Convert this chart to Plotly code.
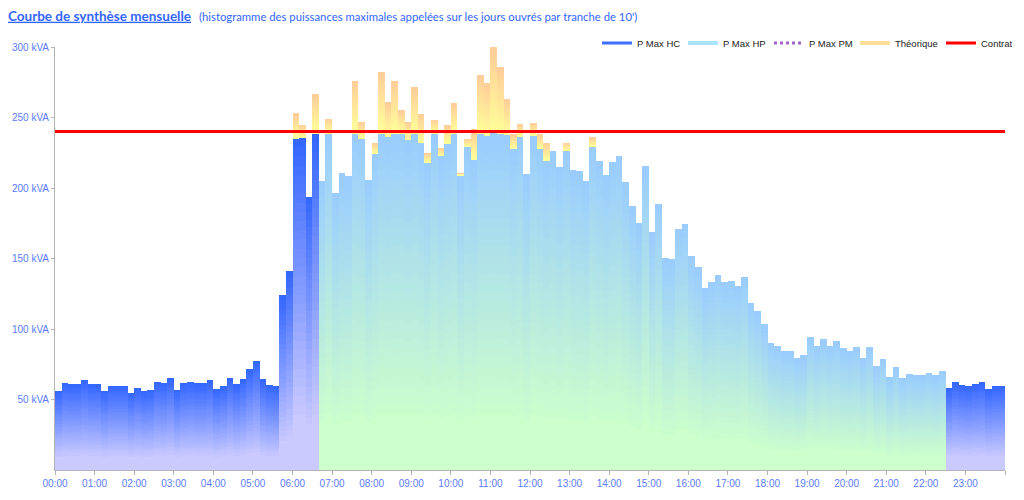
import plotly.graph_objects as go

# ---------------- data ----------------
N_SLOTS = 144                      # 10-minute slots over 24 h
SLOTS_PER_HOUR = 6
HOUR_LABELS = [f"{h:02d}:00" for h in range(24)]

# P Max (kVA) per 10' slot, heures creuses 00:00 -> 06:30
P_MAX_HC_NIGHT = [56.0, 61.4, 60.7, 60.7, 63.6, 60.7, 60.7, 56.0, 59.5, 59.5,
                  59.5, 54.8, 58.3, 56.0, 56.7, 62.4, 61.4, 65.2, 56.7, 61.4,
                  62.4, 61.4, 61.4, 63.6, 57.4, 59.5, 65.2, 60.7, 64.3, 71.4,
                  77.5, 64.3, 60.5, 59.5, 123.8, 141.0, 235.0, 235.5, 193.7, 239.0]
# heures pleines 06:40 -> 22:20
P_MAX_HP = [204.8, 239.0, 196.8, 210.5, 208.4, 239.0, 235.0, 205.5, 224.4, 239.0,
            236.2, 239.0, 239.0, 234.3, 239.0, 232.0, 218.1, 239.0, 222.8, 231.5,
            239.0, 209.1, 229.1, 220.4, 239.0, 237.4, 239.0, 238.6, 238.0, 228.0,
            236.2, 209.8, 236.9, 228.0, 219.7, 226.3, 215.0, 226.3, 213.1, 212.4,
            204.8, 229.6, 218.8, 209.1, 218.1, 222.5, 204.1, 187.1, 175.3, 215.7,
            168.9, 189.0, 150.7, 149.8, 170.8, 174.3, 151.7, 143.9, 128.8, 133.2,
            138.0, 133.4, 134.2, 130.6, 137.0, 118.1, 112.5, 103.2, 90.2, 87.9,
            84.6, 84.6, 79.6, 81.3, 94.0, 88.1, 92.6, 88.1, 91.2, 86.2,
            84.6, 86.9, 79.6, 86.9, 73.7, 78.7, 65.9, 72.8, 65.2, 68.0,
            67.1, 67.1, 69.0, 67.1, 69.9]
# heures creuses 22:30 -> 23:50
P_MAX_HC_EVENING = [58.3, 62.1, 60.5, 59.5, 61.2, 62.1, 57.6, 59.5, 59.5]

# Puissance théorique (kVA) on the slots where it exceeds the measured P Max
THEORIQUE_SLOTS = [36, 37, 39, 41, 45, 46, 48, 49, 50, 51, 52, 53, 54, 55, 56, 57,
                   58, 59, 60, 61, 62, 63, 64, 65, 66, 67, 68, 69, 70, 72, 73, 74,
                   77, 81]
THEORIQUE_VALUES = [253.0, 245.0, 266.5, 249.0, 276.0, 247.0, 232.0, 282.5, 261.0,
                    276.0, 255.0, 247.0, 271.5, 252.5, 225.0, 248.5, 228.5, 245.0,
                    260.0, 210.5, 235.0, 242.0, 280.0, 274.5, 300.0, 285.5, 263.0,
                    238.0, 245.5, 246.0, 238.0, 232.0, 232.0, 236.0]

CONTRAT_KVA = 240
Y_TICKS = [50, 100, 150, 200, 250, 300]

# ---------------- styles ----------------
HC_TOP, HC_BOTTOM = (51, 102, 255), (202, 202, 255)
HP_TOP, HP_BOTTOM = (153, 204, 255), (204, 255, 204)
TH_TOP, TH_BOTTOM = (255, 204, 153), (255, 255, 153)
AXIS_TEXT = "#5b7bff"
N_SLICES = 36


def grad(bottom, top, f, start=0.15):
    t = min(max((f - start) / (1 - start), 0.0), 1.0)
    c = [round(b + (a - b) * t) for a, b in zip(top, bottom)]
    return f"rgb({c[0]},{c[1]},{c[2]})"


p_max = P_MAX_HC_NIGHT + P_MAX_HP + P_MAX_HC_EVENING
hp_start = len(P_MAX_HC_NIGHT)
hp_end = hp_start + len(P_MAX_HP)
is_hp = [hp_start <= i < hp_end for i in range(len(p_max))]
x_centers = [i + 0.5 for i in range(len(p_max))]

theo_extra = [0.0] * len(p_max)
for s, v in zip(THEORIQUE_SLOTS, THEORIQUE_VALUES):
    theo_extra[s] = max(v - p_max[s], 0.0)

fig = go.Figure()

# P Max bars: vertical gradient per bar, drawn as overlaid shrinking bars
for k in range(N_SLICES):
    frac = (N_SLICES - k) / N_SLICES
    fmid = (N_SLICES - k - 0.5) / N_SLICES
    colors = [grad(HP_BOTTOM, HP_TOP, fmid) if hp else grad(HC_BOTTOM, HC_TOP, fmid)
              for hp in is_hp]
    fig.add_trace(go.Bar(
        x=x_centers, y=[v * frac for v in p_max],
        marker=dict(color=colors, line=dict(width=0)),
        showlegend=False, hoverinfo="skip", width=1,
    ))

# Théorique on top of P Max
for k in range(N_SLICES):
    frac = (N_SLICES - k) / N_SLICES
    fmid = (N_SLICES - k - 0.5) / N_SLICES
    fig.add_trace(go.Bar(
        x=x_centers, y=[v * frac for v in theo_extra], base=p_max,
        marker=dict(color=grad(TH_BOTTOM, TH_TOP, fmid, start=0.0), line=dict(width=0)),
        showlegend=False, hoverinfo="skip", width=1,
    ))

# legend entries
for name, color, dash, w in [("P Max HC", "#3f6fff", "solid", 3),
                             ("P Max HP", "#a8e4ff", "solid", 4),
                             ("P Max PM", "#a066cc", "dot", 3),
                             ("Théorique", "#ffdf99", "solid", 4)]:
    fig.add_trace(go.Scatter(x=[None], y=[None], mode="lines", name=name,
                             line=dict(color=color, width=w, dash=dash)))

fig.add_trace(go.Scatter(
    x=[0, len(p_max)], y=[CONTRAT_KVA, CONTRAT_KVA], mode="lines", name="Contrat",
    line=dict(color="#ff0000", width=3), hoverinfo="skip",
))

fig.update_layout(
    width=1024, height=500, autosize=False,
    margin=dict(l=55, r=19, t=47, b=30, autoexpand=False),
    paper_bgcolor="white", plot_bgcolor="white",
    barmode="overlay", bargap=0,
    title=dict(
        text="<b>Courbe de synthèse mensuelle</b>",
        x=8 / 1024, xanchor="left", xref="container",
        y=1 - 16 / 500, yanchor="middle", yref="container",
        font=dict(family="Comic Sans MS, Lato, sans-serif", size=13.5,
                  color="#3366ff", lineposition="under"),
    ),
    legend=dict(
        orientation="h", xref="container", yref="container",
        x=597 / 1024, xanchor="left", y=1 - 43 / 500, yanchor="middle",
        font=dict(family="Liberation Sans, Arial, sans-serif", size=9.5, color="#222"),
        itemwidth=30, entrywidth=41, entrywidthmode="pixels",
        bgcolor="rgba(0,0,0,0)", traceorder="normal",
    ),
    xaxis=dict(
        range=[0, len(p_max)],
        tickvals=[h * SLOTS_PER_HOUR for h in range(25)],
        ticktext=HOUR_LABELS + [""],
        showline=True, linecolor="#b4b4b4", linewidth=1,
        ticks="outside", ticklen=4, tickcolor="#b4b4b4",
        showgrid=False, zeroline=False,
        tickfont=dict(family="Liberation Sans Narrow, Liberation Sans, Arial", size=10,
                      color=AXIS_TEXT),
    ),
    yaxis=dict(
        range=[0, 300],
        tickvals=Y_TICKS, ticktext=[f"{v} kVA" for v in Y_TICKS],
        showline=True, linecolor="#b4b4b4", linewidth=1,
        ticks="outside", ticklen=3, tickcolor="#b4b4b4",
        showgrid=False, zeroline=False,
        tickfont=dict(family="Liberation Sans Narrow, Liberation Sans, Arial", size=10,
                      color=AXIS_TEXT),
    ),
    annotations=[dict(
        text="(histogramme des puissances maximales appelées sur les jours ouvrés par tranche de 10')",
        xref="paper", yref="paper", x=(197 - 55) / 950, y=(470 - 17) / 423,
        xanchor="left", yanchor="middle", showarrow=False,
        font=dict(family="Comic Sans MS, Lato, sans-serif", size=11.3, color="#3366ff"),
    )],
)

fig.write_html("out.html", config={"displayModeBar": False},
               post_script="document.body.style.margin='0';")
